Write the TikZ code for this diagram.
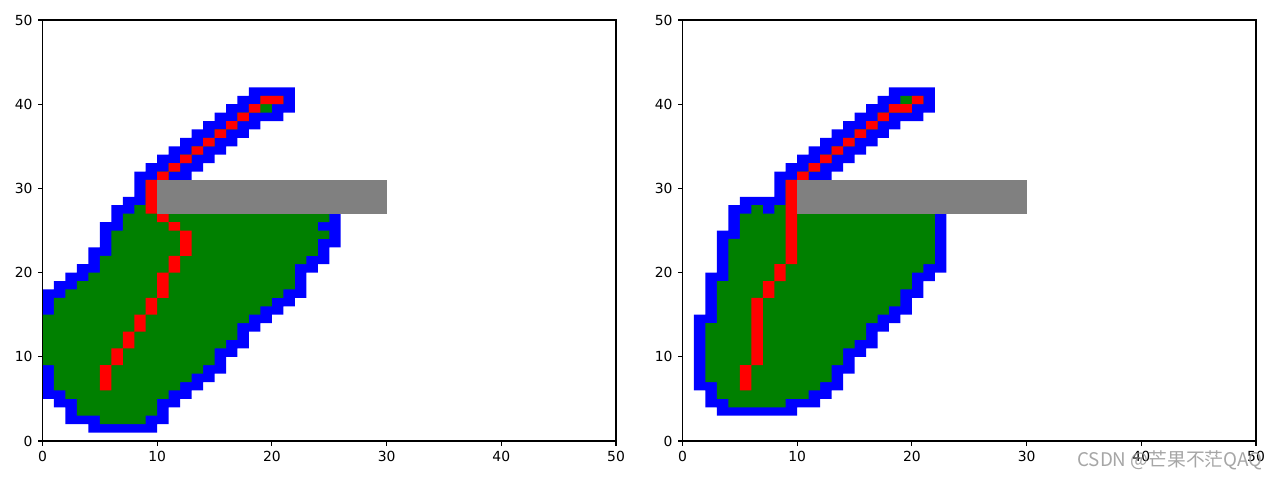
\documentclass[tikz,border=0pt]{standalone}
\usepackage{fontspec}
\setmainfont{DejaVu Sans}
\newfontfamily\cjkfont{Noto Sans CJK SC}
\usepackage{tikz}
\definecolor{mplblue}{RGB}{0,0,255}
\definecolor{mplgreen}{RGB}{0,128,0}
\definecolor{mplred}{RGB}{255,0,0}
\definecolor{mplgray}{RGB}{128,128,128}
\definecolor{markgray}{RGB}{150,150,150}

\begin{document}
\begin{tikzpicture}[x=1cm,y=1cm]
\tikzstyle{ticklabel}=[font=\fontsize{7.9}{9}\selectfont,inner sep=0pt]
\tikzstyle{frame}=[line width=0.6pt]
\useasboundingbox (0,0) rectangle (25.6,9.6);

% left grid
\begin{scope}[shift={(0.85,0.78)},x=0.2294cm,y=0.1684cm]
\clip (0,0) rectangle (50,50);
\fill[mplblue] \foreach \r/\a/\b in {40/19/20,39/18/19,38/17/17,37/16/16,36/15/15,35/14/14,34/13/13,33/12/12,32/11/11,31/10/10,30/9/9,29/9/9,28/9/9,27/8/9,26/7/24,25/7/23,24/6/24,23/6/23,22/6/23,21/5/22,20/5/21,19/4/21,18/3/21,17/2/20,16/1/19,15/1/18,14/0/17,13/0/16,12/0/16,11/0/15,10/0/14,9/0/14,8/1/13,7/1/12,6/1/11,5/2/10,4/3/9,3/3/9,2/5/8} {(\a-1,\r-1) rectangle (\b+2,\r+2)};
\fill[mplgreen] \foreach \r/\a/\b in {40/19/20,39/18/19,38/17/17,37/16/16,36/15/15,35/14/14,34/13/13,33/12/12,32/11/11,31/10/10,30/9/9,29/9/9,28/9/9,27/8/9,26/7/24,25/7/23,24/6/24,23/6/23,22/6/23,21/5/22,20/5/21,19/4/21,18/3/21,17/2/20,16/1/19,15/1/18,14/0/17,13/0/16,12/0/16,11/0/15,10/0/14,9/0/14,8/1/13,7/1/12,6/1/11,5/2/10,4/3/9,3/3/9,2/5/8} {(\a,\r) rectangle (\b+1,\r+1)};
\fill[mplred] \foreach \c/\r in {5/6,5/7,5/8,6/9,6/10,7/11,7/12,8/13,8/14,9/15,9/16,10/17,10/18,10/19,11/20,11/21,12/22,12/23,12/24,11/25,10/26,9/27,9/28,9/29,9/30,10/31,11/32,12/33,13/34,14/35,15/36,16/37,17/38,18/39,19/40,20/40} {(\c,\r) rectangle ++(1,1)};
\fill[mplgray] (10,27) rectangle (30,31);
\end{scope}

% right grid
\begin{scope}[shift={(13.65,0.78)},x=0.2294cm,y=0.1684cm]
\clip (0,0) rectangle (50,50);
\fill[mplblue] \foreach \r/\a/\b in {40/19/20,39/18/19,38/17/17,37/16/16,36/15/15,35/14/14,34/13/13,33/12/12,32/11/11,31/10/10,30/9/9,29/9/9,28/9/9,27/6/6,27/8/9,26/5/21,25/5/21,24/5/21,23/4/21,22/4/21,21/4/21,20/4/20,19/4/19,18/3/19,17/3/18,16/3/18,15/3/17,14/3/16,13/2/15,12/2/15,11/2/14,10/2/13,9/2/13,8/2/12,7/2/12,6/3/11,5/3/10,4/4/8} {(\a-1,\r-1) rectangle (\b+2,\r+2)};
\fill[mplgreen] \foreach \r/\a/\b in {40/19/20,39/18/19,38/17/17,37/16/16,36/15/15,35/14/14,34/13/13,33/12/12,32/11/11,31/10/10,30/9/9,29/9/9,28/9/9,27/6/6,27/8/9,26/5/21,25/5/21,24/5/21,23/4/21,22/4/21,21/4/21,20/4/20,19/4/19,18/3/19,17/3/18,16/3/18,15/3/17,14/3/16,13/2/15,12/2/15,11/2/14,10/2/13,9/2/13,8/2/12,7/2/12,6/3/11,5/3/10,4/4/8} {(\a,\r) rectangle (\b+1,\r+1)};
\fill[mplred] \foreach \c/\r in {5/6,5/7,5/8,6/9,6/10,6/11,6/12,6/13,6/14,6/15,6/16,7/17,7/18,8/19,8/20,9/21,9/22,9/23,9/24,9/25,9/26,9/27,9/28,9/29,9/30,10/31,11/32,12/33,13/34,14/35,15/36,16/37,17/38,18/39,19/39,20/40} {(\c,\r) rectangle ++(1,1)};
\fill[mplgray] (10,27) rectangle (30,31);
\end{scope}

% axes
\foreach \ox/\p in {0.85/L,13.65/R} {
  \begin{scope}[shift={(\ox,0.78)},x=0.2294cm,y=0.1684cm]
  \draw[frame] (0,0) rectangle (50,50);
  \foreach \t in {0,10,...,50} {
    \draw[frame] (\t,0) -- ++(0pt,-2.75pt);
    \draw[frame] (0,\t) -- ++(-2.75pt,0pt);
    \node[ticklabel,anchor=north] (x\p\t) at ([yshift=-5.5pt]\t,0) {\t};
    \node[ticklabel,anchor=east] (y\p\t) at ([xshift=-5.5pt]0,\t) {\t};
  }
  \end{scope}
}

\node[font=\cjkfont\fontsize{10.7}{12}\selectfont,text=markgray,text opacity=0.85,anchor=east,inner sep=0pt] (mark) at (25.26,0.4) {CSDN @芒果不茫QAQ};
\end{tikzpicture}
\end{document}
